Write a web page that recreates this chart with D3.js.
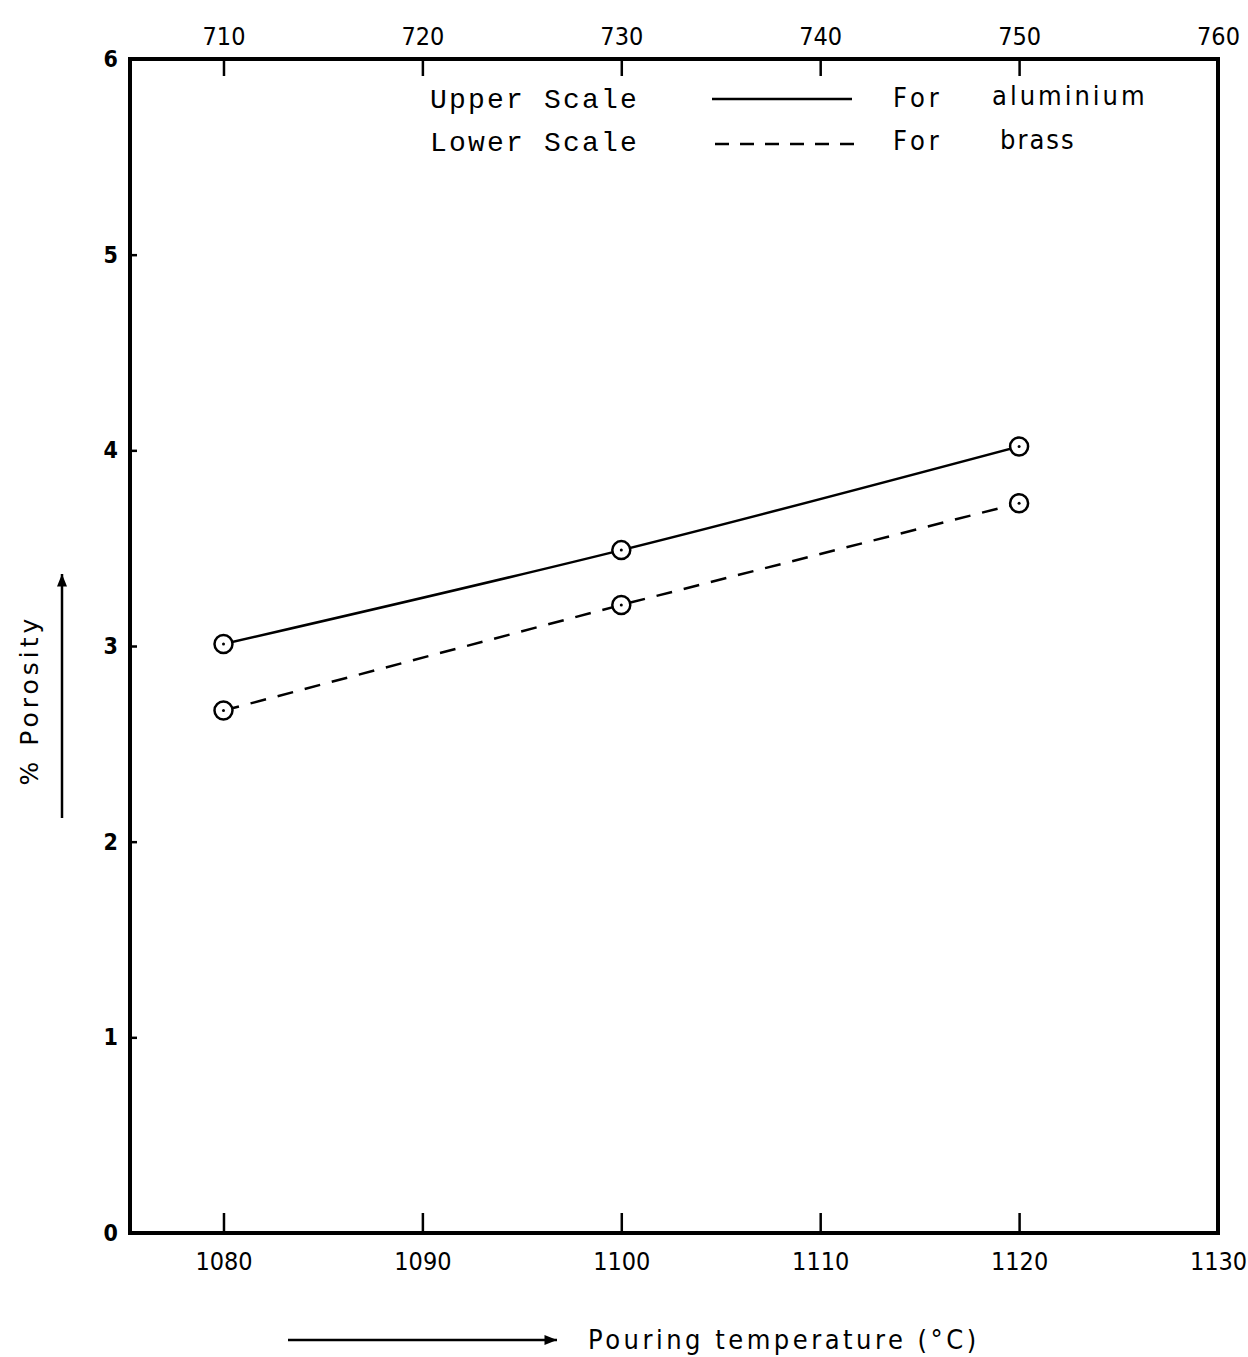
<!DOCTYPE html>
<html>
<head>
<meta charset="utf-8">
<script src="https://cdn.jsdelivr.net/npm/d3@7"></script>
<style>
  body { margin: 0; background: #fff; }
  svg { display: block; }
  .tick text { font-family: "DejaVu Sans Condensed", "Liberation Sans Narrow", sans-serif; }
</style>
</head>
<body>
<div id="chart"></div>
<script>
// data
var brassTemps = [1080, 1100, 1120];            // lower scale
var brassPorosity = [2.67, 3.21, 3.73];
var aluTemps = [710, 730, 750];                 // upper scale
var aluPorosity = [3.01, 3.49, 4.02];
var lowerTicks = [1080, 1090, 1100, 1110, 1120, 1130];
var upperTicks = [710, 720, 730, 740, 750, 760];
var yTicks = [0, 1, 2, 3, 4, 5, 6];

var W = 1248, H = 1357;
var margin = {top: 59, right: 30, bottom: 124, left: 130},
    width = W - margin.left - margin.right,
    height = H - margin.top - margin.bottom;

var svg = d3.select("#chart")
  .append("svg")
    .attr("width", W)
    .attr("height", H)
  .append("g")
    .attr("transform", "translate(" + margin.left + "," + margin.top + ")");

// scales
var xLow = d3.scaleLinear().domain([1075.3, 1130]).range([0, width]);
var xUp = d3.scaleLinear().domain([705.3, 760]).range([0, width]);
var y = d3.scaleLinear().domain([0, 6]).range([height, 0]);

// bottom axis (ticks point inward)
var xb = svg.append("g")
  .attr("transform", "translate(0," + height + ")")
  .call(d3.axisBottom(xLow).tickValues(lowerTicks).tickSizeInner(-20).tickSizeOuter(0).tickPadding(14).tickFormat(d3.format("d")));
xb.selectAll("text").attr("font-size", 25).attr("dy", "0.71em").attr("transform", "translate(0,5)");

// top axis
var xt = svg.append("g")
  .call(d3.axisTop(xUp).tickValues(upperTicks).tickSizeInner(-17).tickSizeOuter(0).tickPadding(14).tickFormat(d3.format("d")));
xt.selectAll("text").attr("font-size", 25);

// left axis
var yl = svg.append("g")
  .call(d3.axisLeft(y).tickValues(yTicks).tickSizeInner(-7).tickSizeOuter(0).tickPadding(12).tickFormat(d3.format("d")));
yl.selectAll("text").attr("font-size", 23).attr("font-weight", "bold");

svg.selectAll(".domain").remove();
svg.selectAll(".tick line").attr("stroke", "#000").attr("stroke-width", 2.5);
svg.selectAll(".tick text").attr("fill", "#000");

// frame
svg.append("rect")
  .attr("x", 0).attr("y", 0)
  .attr("width", width).attr("height", height)
  .attr("fill", "none").attr("stroke", "#000").attr("stroke-width", 4);

// lines
var alu = aluTemps.map(function(t, i) { return {x: xUp(t), y: y(aluPorosity[i])}; });
var brass = brassTemps.map(function(t, i) { return {x: xLow(t), y: y(brassPorosity[i])}; });

var lineCurve = d3.line().x(function(d) { return d.x; }).y(function(d) { return d.y; }).curve(d3.curveNatural);
var lineStraight = d3.line().x(function(d) { return d.x; }).y(function(d) { return d.y; });

svg.append("path").datum(alu)
  .attr("d", lineCurve)
  .attr("fill", "none").attr("stroke", "#000").attr("stroke-width", 2.5);

svg.append("path").datum(brass)
  .attr("d", lineStraight)
  .attr("fill", "none").attr("stroke", "#000").attr("stroke-width", 2.5)
  .attr("stroke-dasharray", "16,12");

// markers
[alu, brass].forEach(function(pts) {
  var g = svg.append("g").selectAll("g").data(pts).enter().append("g")
    .attr("transform", function(d) { return "translate(" + d.x + "," + d.y + ")"; });
  g.append("circle").attr("r", 9).attr("fill", "#fff").attr("stroke", "#000").attr("stroke-width", 2.5);
  g.append("circle").attr("r", 1.5).attr("fill", "#000");
});

// legend
var leg = svg.append("g");
leg.append("text").attr("x", 430 - margin.left).attr("y", 108 - margin.top)
  .attr("font-family", "Liberation Mono, monospace").attr("font-size", 28)
  .attr("letter-spacing", 2.2).text("Upper Scale");
leg.append("text").attr("x", 430 - margin.left).attr("y", 151 - margin.top)
  .attr("font-family", "Liberation Mono, monospace").attr("font-size", 28)
  .attr("letter-spacing", 2.2).text("Lower Scale");
leg.append("line").attr("x1", 712 - margin.left).attr("x2", 852 - margin.left)
  .attr("y1", 99 - margin.top).attr("y2", 99 - margin.top)
  .attr("stroke", "#000").attr("stroke-width", 2.5);
leg.append("line").attr("x1", 715 - margin.left).attr("x2", 860 - margin.left)
  .attr("y1", 144 - margin.top).attr("y2", 144 - margin.top)
  .attr("stroke", "#000").attr("stroke-width", 2.5).attr("stroke-dasharray", "14,11");
leg.append("text").attr("x", 893 - margin.left).attr("y", 107 - margin.top)
  .attr("font-family", "DejaVu Sans Condensed, sans-serif").attr("font-size", 27)
  .attr("letter-spacing", 4).text("For");
leg.append("text").attr("x", 992 - margin.left).attr("y", 105 - margin.top)
  .attr("font-family", "DejaVu Sans Condensed, sans-serif").attr("font-size", 27)
  .attr("letter-spacing", 3).text("aluminium");
leg.append("text").attr("x", 893 - margin.left).attr("y", 150 - margin.top)
  .attr("font-family", "DejaVu Sans Condensed, sans-serif").attr("font-size", 27)
  .attr("letter-spacing", 4).text("For");
leg.append("text").attr("x", 1000 - margin.left).attr("y", 149 - margin.top)
  .attr("font-family", "DejaVu Sans Condensed, sans-serif").attr("font-size", 27)
  .attr("letter-spacing", 2).text("brass");

// axis titles with arrows
var root = d3.select("svg");
var defs = root.append("defs");
defs.append("marker").attr("id", "arrow").attr("viewBox", "0 0 10 10")
  .attr("refX", 10).attr("refY", 5).attr("markerWidth", 12).attr("markerHeight", 5)
  .attr("markerUnits", "strokeWidth").attr("orient", "auto")
  .append("path").attr("d", "M0,1 L10,5 L0,9 Z").attr("fill", "#000");

root.append("line").attr("x1", 62).attr("y1", 818).attr("x2", 62).attr("y2", 574)
  .attr("stroke", "#000").attr("stroke-width", 2.5).attr("marker-end", "url(#arrow)");
root.append("text")
  .attr("transform", "translate(38,700) rotate(-90)")
  .attr("text-anchor", "middle")
  .attr("font-family", "DejaVu Sans, sans-serif").attr("font-size", 25)
  .attr("letter-spacing", 4)
  .text("%  Porosity");

root.append("line").attr("x1", 288).attr("y1", 1340).attr("x2", 557).attr("y2", 1340)
  .attr("stroke", "#000").attr("stroke-width", 2.5).attr("marker-end", "url(#arrow)");
root.append("text").attr("x", 588).attr("y", 1349)
  .attr("font-family", "DejaVu Sans Condensed, sans-serif").attr("font-size", 27)
  .attr("letter-spacing", 3.5)
  .text("Pouring temperature (°C)");
</script>
</body>
</html>
